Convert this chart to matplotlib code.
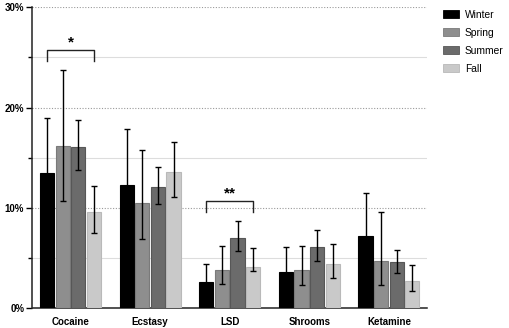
import matplotlib
matplotlib.use("Agg")
import matplotlib.pyplot as plt
import numpy as np
from matplotlib.patches import Patch

categories = ["Cocaine", "Ecstasy", "LSD", "Shrooms", "Ketamine"]
seasons = ["Winter", "Spring", "Summer", "Fall"]

winter = [13.5, 12.3, 2.6, 3.6, 7.2]
winter_lo = [8.0, 6.8, 0.9, 1.2, 3.0]
winter_hi = [19.0, 17.9, 4.4, 6.1, 11.5]

spring = [16.2, 10.5, 3.8, 3.8, 4.7]
spring_lo = [10.7, 6.9, 2.4, 2.3, 2.3]
spring_hi = [23.8, 15.8, 6.2, 6.2, 9.6]

summer = [16.1, 12.1, 7.0, 6.1, 4.6]
summer_lo = [13.8, 10.4, 5.7, 4.7, 3.5]
summer_hi = [18.8, 14.1, 8.7, 7.8, 5.8]

fall = [9.6, 13.6, 4.1, 4.4, 2.7]
fall_lo = [7.5, 11.1, 3.7, 3.0, 1.7]
fall_hi = [12.2, 16.6, 6.0, 6.4, 4.3]

yticks = [0, 10, 20, 30]
ytick_labels = ["0%", "10%", "20%", "30%"]

series = [winter, spring, summer, fall]
lows = [winter_lo, spring_lo, summer_lo, fall_lo]
highs = [winter_hi, spring_hi, summer_hi, fall_hi]
fills = ["#000000", "#8e8e8e", "#6b6b6b", "#c9c9c9"]
edges = ["#000000", "#7a7a7a", "#575757", "#b9b9b9"]

plt.rcParams['font.family'] = ['Liberation Sans', 'DejaVu Sans']

fig = plt.figure(figsize=(5.10, 3.28), dpi=100)
ax = fig.add_axes([32.5/510, 1-308.3/328, (426.7-32.5)/510, (308.3-7.3)/328])

x = np.arange(len(categories))
width = 0.178
step = 0.196
for i, (vals, lo, hi) in enumerate(zip(series, lows, highs)):
    pos = x + (i - 1.5) * step
    vals = np.array(vals); lo = np.array(lo); hi = np.array(hi)
    ax.bar(pos, vals, width, color=fills[i], edgecolor=edges[i], linewidth=0.8,
           zorder=3, label=seasons[i])
    ax.errorbar(pos, vals, yerr=[vals - lo, hi - vals], fmt='none', ecolor='#000000',
                elinewidth=1.0, capsize=2.0, capthick=1.0, zorder=4)

ax.set_xlim(-0.478, 4.474)
ax.set_ylim(0, 30)
ax.set_yticks(yticks)
ax.set_yticklabels(ytick_labels, fontsize=7, fontweight='bold')
ax.set_yticks([5, 15, 25], minor=True)
ax.set_xticks(x)
ax.set_xticklabels(categories, fontsize=7, fontweight='bold')
ax.tick_params(axis='x', length=0, pad=6)
ax.tick_params(axis='y', which='major', length=4, width=1.0, pad=2)
ax.tick_params(axis='y', which='minor', length=3, width=1.0)

for y in [10, 20, 30]:
    ax.axhline(y, color='#9a9a9a', linestyle=(0, (1, 1.5)), linewidth=0.8, zorder=1)
for y in [5, 15, 25]:
    ax.axhline(y, color='#dddddd', linestyle='-', linewidth=0.8, zorder=1)

for s in ['top', 'right']:
    ax.spines[s].set_visible(False)
ax.spines['left'].set_linewidth(1.1)
ax.spines['bottom'].set_linewidth(1.1)
ax.spines['left'].set_color('#222222')
ax.spines['bottom'].set_color('#222222')

# significance brackets
def bracket(x0, x1, ytop, yleg, text):
    ax.plot([x0, x0, x1, x1], [yleg, ytop, ytop, yleg], color='#222222', lw=1.0, zorder=5)
    ax.text((x0 + x1) / 2, ytop + 0.05, text, ha='center', va='bottom',
            fontsize=11, fontweight='bold')

bracket(0 - 1.5*step, 0 + 1.5*step, 25.7, 24.6, "*")
bracket(2 - 1.5*step, 2 + 1.5*step, 10.7, 9.6, "**")

handles = [Patch(facecolor=fills[i], edgecolor=edges[i], linewidth=0.6) for i in range(4)]
fig.legend(handles, seasons, loc='upper left', bbox_to_anchor=(442.7/510, 1 - 9.5/328),
           frameon=False, fontsize=7.4, handlelength=1.55, handleheight=0.76,
           labelspacing=0.78, handletextpad=0.62, borderpad=0, borderaxespad=0)

fig.savefig("out.png", dpi=100)
